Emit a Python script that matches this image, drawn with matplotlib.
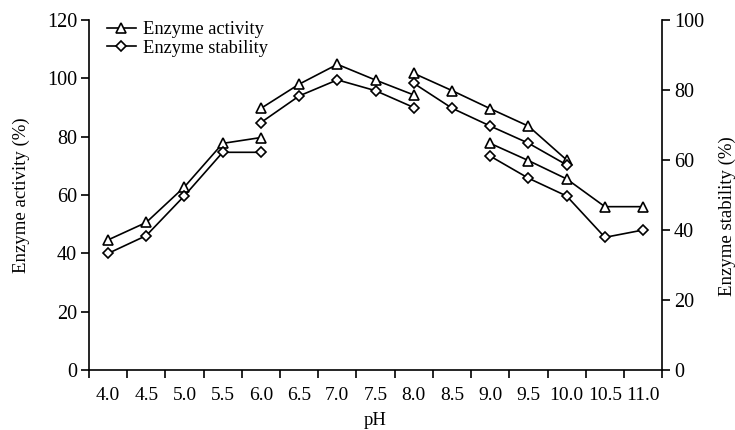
import matplotlib.pyplot as plt
import numpy as np

plt.rcParams['font.family'] = ['Liberation Serif', 'DejaVu Serif']
plt.rcParams['font.size'] = 13.5

ph_labels = ['4.0', '4.5', '5.0', '5.5', '6.0', '6.5', '7.0', '7.5',
             '8.0', '8.5', '9.0', '9.5', '10.0', '10.5', '11.0']

# each buffer system is its own segment (pH range, values)
seg_ph = [['4.0', '4.5', '5.0', '5.5', '6.0'],
          ['6.0', '6.5', '7.0', '7.5', '8.0'],
          ['8.0', '8.5', '9.0', '9.5', '10.0'],
          ['9.0', '9.5', '10.0', '10.5', '11.0']]
activity = [[44.6, 50.6, 62.8, 77.7, 79.7],
            [89.7, 98.0, 104.8, 99.4, 94.3],
            [101.7, 95.8, 89.6, 83.6, 72.0],
            [77.7, 71.8, 65.5, 56.0, 56.0]]
stability = [[33.3, 38.4, 49.8, 62.2, 62.2],
             [70.7, 78.3, 82.9, 79.8, 75.0],
             [81.9, 74.8, 69.7, 64.8, 58.6],
             [61.1, 54.8, 49.7, 37.9, 40.0]]

fig = plt.figure(figsize=(7.35, 4.3), dpi=100)
ax = fig.add_axes([0.121, 0.1395, 0.780, 0.814])
ax2 = ax.twinx()

for i in range(len(seg_ph)):
    xs = [ph_labels.index(p) for p in seg_ph[i]]
    ax.plot(xs, activity[i], color='black', lw=1.2, marker='^', ms=6.5,
            mfc='white', mec='black', mew=1.2,
            label='Enzyme activity' if i == 0 else None)
    ax2.plot(xs, stability[i], color='black', lw=1.2, marker='D', ms=4.8,
             mfc='white', mec='black', mew=1.2)

# legend entry for stability on main axes
ax.plot([], [], color='black', lw=1.2, marker='D', ms=4.8, mfc='white',
        mec='black', mew=1.2, label='Enzyme stability')

ax.set_xlim(-0.5, len(ph_labels) - 0.5)
ax.set_ylim(0, 120)
ax2.set_ylim(0, 100)
ax.set_yticks(range(0, 121, 20))
ax2.set_yticks(range(0, 101, 20))

ax.set_xticks(np.arange(-0.5, len(ph_labels), 1.0))
ax.set_xticklabels([])
ax.set_xticks(range(len(ph_labels)), minor=True)
ax.set_xticklabels(ph_labels, minor=True)
ax.tick_params(axis='x', which='minor', length=0, pad=12, labelsize=14)
ax.tick_params(axis='x', which='major', length=5.5, width=1.2, direction='out')
ax.tick_params(axis='y', length=5.5, width=1.2, direction='out', pad=3,
               labelsize=14.5)
ax2.tick_params(axis='y', length=5.5, width=1.2, direction='out', pad=3,
                labelsize=14.5)

for a in (ax, ax2):
    a.spines['top'].set_visible(False)
    for s in ('left', 'right', 'bottom'):
        a.spines[s].set_linewidth(1.2)
ax.spines['right'].set_visible(False)
ax2.spines['left'].set_visible(False)
ax2.spines['bottom'].set_visible(False)

ax.set_xlabel('pH', labelpad=6)
ax.set_ylabel('Enzyme activity (%)', labelpad=12)
ax2.set_ylabel('Enzyme stability (%)')
ax2.yaxis.set_label_coords(1.098, 0.44)

ax.legend(loc='upper left', frameon=False, handlelength=1.6,
          handletextpad=0.35, labelspacing=0.1, borderaxespad=0,
          fontsize=13.3, bbox_to_anchor=(0.018, 1.018))

fig.savefig('out.png', dpi=100)
